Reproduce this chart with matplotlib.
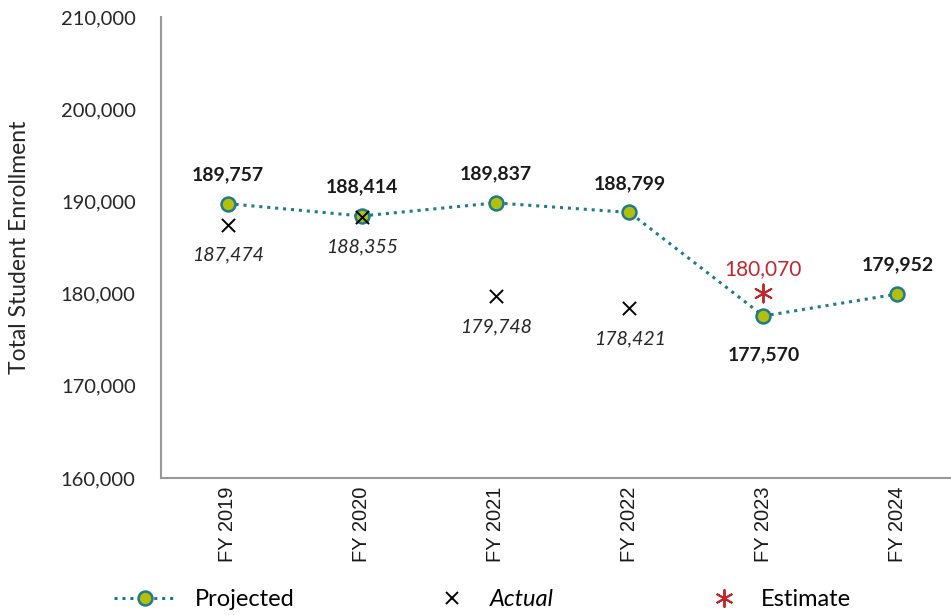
import matplotlib.pyplot as plt
from matplotlib.lines import Line2D

years = ['FY 2019', 'FY 2020', 'FY 2021', 'FY 2022', 'FY 2023', 'FY 2024']
projected = [189757, 188414, 189837, 188799, 177570, 179952]
actual = [187474, 188355, 179748, 178421]
estimate_year = 4
estimate = 180070

teal = '#1f7a8c'
lime = '#b3bf0a'
red = '#c0282d'

plt.rcParams['font.family'] = ['Lato', 'DejaVu Sans']

fig = plt.figure(figsize=(9.51, 6.15), dpi=100)
ax = fig.add_axes([0.169, 0.2228, 0.845, 0.7496])

x = list(range(len(years)))
ax.plot(x, projected, linestyle=(0, (1, 1.6)), linewidth=2.2, color=teal,
        marker='o', markersize=10, markerfacecolor=lime, markeredgecolor=teal,
        markeredgewidth=1.8, zorder=3)
ax.scatter(x[:len(actual)], actual, marker='x', s=90, color='black', linewidths=1.4, zorder=4)
ax.scatter([estimate_year], [estimate], marker=(6, 2, 0), s=170, color=red, linewidths=1.4, zorder=4)

# value labels
for i, v in enumerate(projected):
    dy = -28 if i == estimate_year else 21
    ax.annotate(f'{v:,}', (i, v), textcoords='offset points', xytext=(0, dy),
                ha='center', va='center', fontsize=14, fontweight='bold', color='#1a1a1a')
for i, v in enumerate(actual):
    ax.annotate(f'{v:,}', (i, v), textcoords='offset points', xytext=(0, -22),
                ha='center', va='center', fontsize=14, style='italic', color='#262626')
ax.annotate(f'{estimate:,}', (estimate_year, estimate), textcoords='offset points',
            xytext=(0, 17), ha='center', va='center', fontsize=15, color=red)

ax.set_xlim(-0.5, 5.5)
ax.set_ylim(160000, 210000)
ax.set_yticks(range(160000, 210001, 10000))
ax.set_yticklabels([f'{t:,}' for t in range(160000, 210001, 10000)], fontsize=14.5, color='#262626')
ax.set_xticks(x)
ax.set_xticklabels(years, rotation=90, fontsize=14.5, family=['Liberation Sans'], color='#1a1a1a')
ax.tick_params(length=0, pad=6)
ax.tick_params(axis='y', pad=18)
ax.set_ylabel('Total Student Enrollment', fontsize=16.5, color='#262626')
ax.yaxis.set_label_coords(-0.163, 0.5)

for s in ['top', 'right']:
    ax.spines[s].set_visible(False)
for s in ['left', 'bottom']:
    ax.spines[s].set_color('#999999')
    ax.spines[s].set_linewidth(1.5)

# legend entries placed one by one along the bottom
entries = [
    (Line2D([], [], linestyle=(0, (1, 1.6)), linewidth=2.2, color=teal, marker='o', markersize=10,
            markerfacecolor=lime, markeredgecolor=teal, markeredgewidth=1.8), 'Projected', 'normal', 0.12, 2.6),
    (Line2D([], [], linestyle='none', marker='x', markersize=9, color='black', markeredgewidth=1.4),
     'Actual', 'italic', 0.455, 1.6),
    (Line2D([], [], linestyle='none', marker=(6, 2, 0), markersize=13, color=red, markeredgewidth=1.4),
     'Estimate', 'normal', 0.741, 1.6),
]
for h, lab, st, xpos, hl in entries:
    leg = fig.legend([h], [lab], loc='center left', bbox_to_anchor=(xpos, 0.025), frameon=False,
                     fontsize=17, handlelength=hl, handletextpad=0.8, borderpad=0, borderaxespad=0)
    leg.get_texts()[0].set_style(st)

fig.savefig('out.png', dpi=100)
